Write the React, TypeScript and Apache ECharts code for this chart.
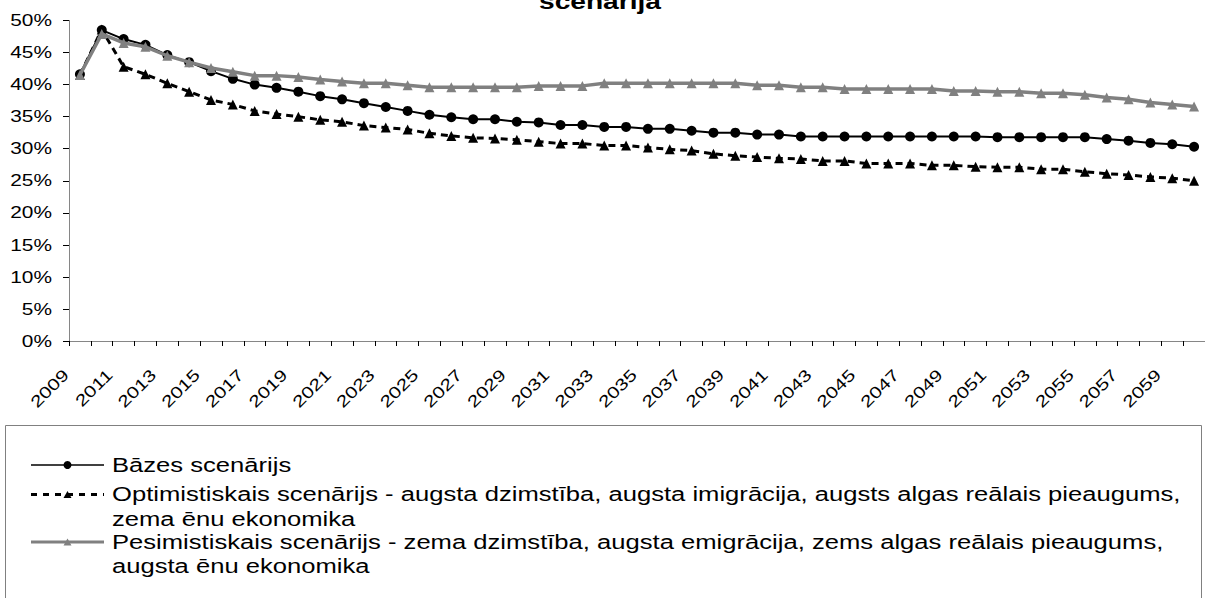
import React, { useEffect, useRef } from "react";
import * as echarts from "echarts";

const years = [
  "2009", "2010", "2011", "2012", "2013", "2014", "2015", "2016", "2017", "2018",
  "2019", "2020", "2021", "2022", "2023", "2024", "2025", "2026", "2027", "2028",
  "2029", "2030", "2031", "2032", "2033", "2034", "2035", "2036", "2037", "2038",
  "2039", "2040", "2041", "2042", "2043", "2044", "2045", "2046", "2047", "2048",
  "2049", "2050", "2051", "2052", "2053", "2054", "2055", "2056", "2057", "2058",
  "2059", "2060",
];

// x tick labels shown (every other year)
const xTickLabels = [
  "2009", "2011", "2013", "2015", "2017", "2019", "2021", "2023", "2025", "2027",
  "2029", "2031", "2033", "2035", "2037", "2039", "2041", "2043", "2045", "2047",
  "2049", "2051", "2053", "2055", "2057", "2059",
];

// y tick values (percent)
const yTickValues = [0, 5, 10, 15, 20, 25, 30, 35, 40, 45, 50];

const baseValues = [
  41.6, 48.5, 47.1, 46.2, 44.6, 43.5, 42.1, 40.9, 40.0, 39.5,
  38.9, 38.2, 37.7, 37.1, 36.5, 35.9, 35.3, 34.9, 34.6, 34.6,
  34.2, 34.1, 33.7, 33.7, 33.4, 33.4, 33.1, 33.1, 32.8, 32.5,
  32.5, 32.2, 32.2, 31.9, 31.9, 31.9, 31.9, 31.9, 31.9, 31.9,
  31.9, 31.9, 31.8, 31.8, 31.8, 31.8, 31.8, 31.5, 31.25, 30.9,
  30.7, 30.3,
];

const optValues = [
  41.5, 48.6, 42.8, 41.6, 40.2, 38.9, 37.6, 36.9, 35.9, 35.4,
  35.0, 34.5, 34.2, 33.6, 33.3, 33.0, 32.4, 32.0, 31.7, 31.6,
  31.4, 31.1, 30.8, 30.8, 30.5, 30.5, 30.2, 29.9, 29.7, 29.2,
  28.9, 28.7, 28.5, 28.4, 28.1, 28.1, 27.7, 27.7, 27.7, 27.4,
  27.4, 27.2, 27.1, 27.1, 26.8, 26.8, 26.4, 26.1, 25.9, 25.6,
  25.4, 25.0,
];

const pesValues = [
  41.5, 47.9, 46.5, 45.9, 44.5, 43.5, 42.6, 42.0, 41.4, 41.4,
  41.2, 40.8, 40.5, 40.2, 40.2, 39.9, 39.6, 39.6, 39.6, 39.6,
  39.6, 39.8, 39.8, 39.8, 40.2, 40.2, 40.2, 40.2, 40.2, 40.2,
  40.2, 39.9, 39.9, 39.6, 39.6, 39.3, 39.3, 39.3, 39.3, 39.3,
  39.0, 39.0, 38.9, 38.9, 38.65, 38.65, 38.4, 38.0, 37.7, 37.2,
  36.9, 36.6,
];

const seriesNames = [
  "Bāzes scenārijs",
  "Optimistiskais scenārijs - augsta dzimstība, augsta imigrācija, augsts algas reālais pieaugums, zema ēnu ekonomika",
  "Pesimistiskais scenārijs - zema dzimstība, augsta emigrācija, zems algas reālais pieaugums, augsta ēnu ekonomika",
];

const legendTexts = [
  "Bāzes scenārijs",
  "Optimistiskais scenārijs - augsta dzimstība, augsta imigrācija, augsts algas reālais pieaugums,\nzema ēnu ekonomika",
  "Pesimistiskais scenārijs - zema dzimstība, augsta emigrācija, zems algas reālais pieaugums,\naugsta ēnu ekonomika",
];

const titleText = "scenārija";

const FONT = "'Liberation Sans', Arial, sans-serif";
const GREY = "#808080";

function triangle(cx: number, cy: number, s: number) {
  const h = s * 0.9;
  return [
    [cx, cy - h / 2],
    [cx + s / 2, cy + h / 2],
    [cx - s / 2, cy + h / 2],
  ];
}

export default function App() {
  const ref = useRef<HTMLDivElement>(null);

  useEffect(() => {
    if (!ref.current) return;
    const chart = echarts.init(ref.current, null, { renderer: "svg" });

    const SX = 1.28; // horizontal text stretch seen in the reference
    const LH = 24.3;
    const LFS = 20;
    const AFS = 16.3;
    const iconX0 = 31;
    const iconX1 = 104;
    const iconMid = (iconX0 + iconX1) / 2;
    const rowY = [465, 494.5, 542];

    chart.setOption({
      animation: false,
      backgroundColor: "#fff",
      textStyle: { fontFamily: FONT },
      grid: { left: 69, right: 0, top: 20.5, bottom: 257, containLabel: false },
      xAxis: {
        type: "category",
        data: years,
        boundaryGap: true,
        axisLine: { lineStyle: { color: "#868686", width: 1 } },
        axisTick: { show: true, interval: 0, length: 5, lineStyle: { color: "#000" } },
        axisLabel: { show: false },
        splitLine: { show: false },
      },
      yAxis: {
        type: "value",
        min: 0,
        max: 50,
        interval: 5,
        axisLine: { show: true, lineStyle: { color: "#868686", width: 1 } },
        axisTick: { show: true, length: 6, lineStyle: { color: "#000" } },
        axisLabel: { show: false },
        splitLine: { show: false },
      },
      series: [
        {
          name: seriesNames[0],
          type: "line",
          data: baseValues,
          symbol: "circle",
          symbolSize: 10,
          itemStyle: { color: "#000" },
          lineStyle: { color: "#000", width: 2 },
          z: 2,
        },
        {
          name: seriesNames[1],
          type: "line",
          data: optValues,
          symbol: "triangle",
          symbolSize: 10,
          itemStyle: { color: "#000" },
          lineStyle: { color: "#000", width: 3, type: [7, 5] },
          z: 3,
        },
        {
          name: seriesNames[2],
          type: "line",
          data: pesValues,
          symbol: "triangle",
          symbolSize: 10,
          itemStyle: { color: GREY },
          lineStyle: { color: GREY, width: 3.5 },
          z: 4,
        },
      ],
    });

    // Axis labels placed through the chart's own scales
    const axisY = chart.convertToPixel({ yAxisIndex: 0 }, 0) as number;
    const yLabels = yTickValues.map((v) => ({
      type: "text",
      silent: true,
      x: 52,
      y: chart.convertToPixel({ yAxisIndex: 0 }, v) as number,
      scaleX: SX,
      style: {
        text: `${v}%`,
        fontSize: AFS,
        fontFamily: FONT,
        fill: "#000",
        align: "right",
        verticalAlign: "middle",
      },
    }));
    const xLabels = xTickLabels.map((yr) => ({
      type: "group",
      silent: true,
      x: (chart.convertToPixel({ xAxisIndex: 0 }, yr) as number) - 14,
      y: axisY + 31,
      rotation: Math.PI / 4,
      children: [
        {
          type: "text",
          silent: true,
          x: 0,
          y: 0,
          scaleX: SX,
          style: {
            text: yr,
            fontSize: AFS,
            fontFamily: FONT,
            fill: "#000",
            align: "right",
            verticalAlign: "middle",
          },
        },
      ],
    }));

    const legendItems: any[] = [
      {
        type: "rect",
        shape: { x: 5.5, y: 425.5, width: 1196, height: 200 },
        style: { fill: "none", stroke: GREY, lineWidth: 1 },
      },
      {
        type: "line",
        shape: { x1: iconX0, y1: rowY[0], x2: iconX1, y2: rowY[0] },
        style: { stroke: "#000", lineWidth: 1.5 },
      },
      {
        type: "circle",
        shape: { cx: iconMid, cy: rowY[0], r: 4 },
        style: { fill: "#000" },
      },
      {
        type: "line",
        shape: { x1: iconX0, y1: rowY[1], x2: iconX1, y2: rowY[1] },
        style: { stroke: "#000", lineWidth: 3, lineDash: [6, 6] },
      },
      {
        type: "polygon",
        shape: { points: triangle(iconMid, rowY[1], 8) },
        style: { fill: "#000" },
      },
      {
        type: "line",
        shape: { x1: iconX0, y1: rowY[2], x2: iconX1, y2: rowY[2] },
        style: { stroke: GREY, lineWidth: 3 },
      },
      {
        type: "polygon",
        shape: { points: triangle(iconMid, rowY[2], 8) },
        style: { fill: GREY },
      },
    ];
    legendTexts.forEach((t, i) => {
      legendItems.push({
        type: "text",
        x: 112,
        y: rowY[i] - LH / 2,
        scaleX: SX,
        style: {
          text: t,
          fontSize: LFS,
          fontFamily: FONT,
          lineHeight: LH,
          fill: "#000",
          align: "left",
          verticalAlign: "top",
        },
      });
    });

    chart.setOption({
      graphic: [
        {
          type: "text",
          x: 600,
          y: 12,
          scaleX: SX,
          silent: true,
          style: {
            text: titleText,
            fontSize: 22,
            fontWeight: "bold",
            fontFamily: FONT,
            fill: "#000",
            align: "center",
            verticalAlign: "bottom",
          },
        },
        { type: "group", silent: true, children: yLabels },
        { type: "group", silent: true, children: xLabels },
        { type: "group", silent: true, children: legendItems },
      ],
    });

    return () => chart.dispose();
  }, []);

  return (
    <div
      ref={ref}
      style={{ position: "fixed", left: 0, top: 0, width: 1205, height: 598, background: "#fff" }}
    />
  );
}
